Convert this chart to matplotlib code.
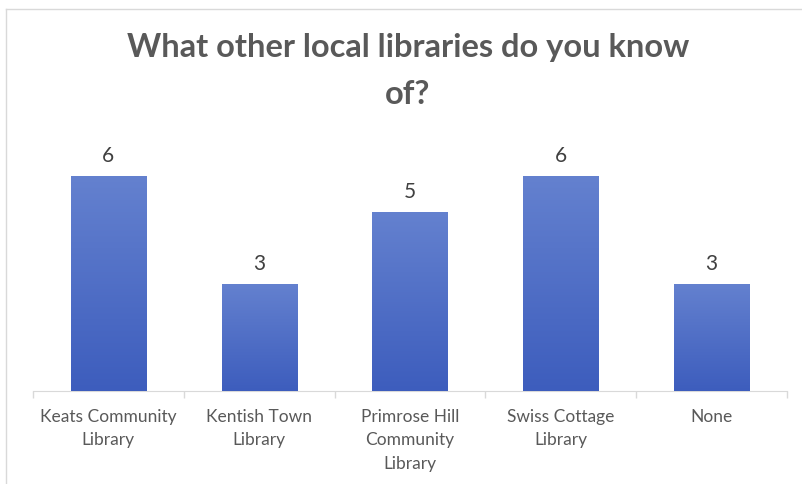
import numpy as np
import matplotlib.pyplot as plt
from matplotlib.lines import Line2D
from matplotlib.colors import LinearSegmentedColormap

libraries = ["Keats Community\nLibrary", "Kentish Town\nLibrary",
             "Primrose Hill\nCommunity\nLibrary", "Swiss Cottage\nLibrary", "None"]
counts = [6, 3, 5, 6, 3]

plt.rcParams['font.family'] = ['Lato', 'DejaVu Sans']

fig = plt.figure(figsize=(8.02, 4.85), dpi=100)
ax = fig.add_axes([33 / 802, 1 - 392 / 485, 754 / 802, (392 - 141.4) / 485])

x = np.arange(len(counts))
bars = ax.bar(x, counts, width=0.5, color='#4a6cc8', zorder=2)

# vertical gradient inside each bar
grad = np.linspace(0, 1, 256).reshape(-1, 1)
cmap = LinearSegmentedColormap.from_list('b', ['#3d5dbd', '#6481cf'])
for b, c in zip(bars, counts):
    x0, w, h = b.get_x(), b.get_width(), b.get_height()
    im = ax.imshow(grad, extent=[x0, x0 + w, 0, h], origin='lower', cmap=cmap,
                   aspect='auto', zorder=3)
    im.set_clip_path(b)
    ax.text(x0 + w / 2, h + 0.3, str(c), ha='center',
            va='bottom', fontsize=15, color='#404040')

ax.set_xlim(-0.5, len(counts) - 0.5)
ax.set_ylim(0, 7)
ax.set_yticks([])
ax.set_xticks(x)
ax.set_xticklabels(libraries, fontsize=12.5, color='#595959', linespacing=1.6, va='top')
ax.tick_params(axis='x', length=0, pad=12)
ax.set_xticks(np.arange(len(counts) + 1) - 0.5, minor=True)
ax.tick_params(axis='x', which='minor', length=5, color='#d9d9d9', width=1)
for s in ['top', 'right', 'left']:
    ax.spines[s].set_visible(False)
ax.spines['bottom'].set_color('#d9d9d9')

fig.text(408 / 802, 1 - 48 / 485, "What other local libraries do you know",
         ha='center', va='center', fontsize=23.5, fontweight='bold', color='#595959')
fig.text(408 / 802, 1 - 95 / 485, "of?",
         ha='center', va='center', fontsize=23.5, fontweight='bold', color='#595959')

# chart area border
fig.add_artist(Line2D([6 / 802, 1], [1 - 10 / 485] * 2, color='#d9d9d9', lw=1))
fig.add_artist(Line2D([6 / 802] * 2, [0, 1 - 10 / 485], color='#d9d9d9', lw=1))

fig.savefig("out.png", dpi=100)
